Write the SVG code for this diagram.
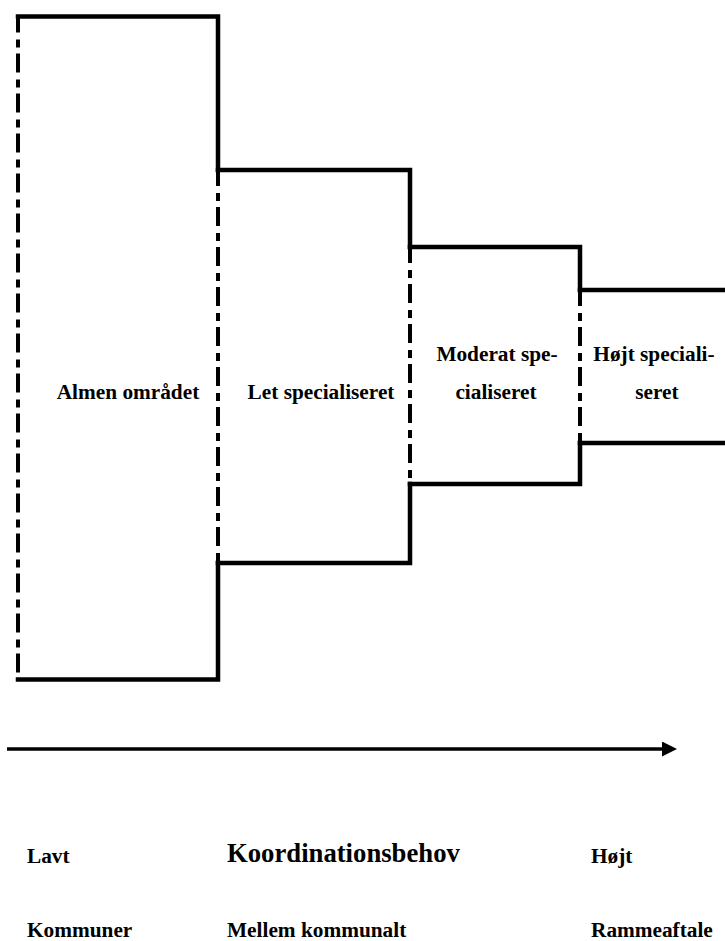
<svg xmlns="http://www.w3.org/2000/svg" width="725" height="941" viewBox="0 0 725 941">
<style>
.solid{fill:none;stroke:#000;stroke-width:4.5;stroke-linecap:square;stroke-linejoin:miter}
.dash{fill:none;stroke:#000;stroke-width:4;stroke-dasharray:19 7 8 6;stroke-dashoffset:3}
.lbl{font-family:"Liberation Serif","Times New Roman",serif;font-weight:bold;font-size:21.3px;fill:#000}
.big{font-size:26.7px}
.mid{text-anchor:middle}
</style>
<defs>
<marker id="ah" markerWidth="16" markerHeight="15" refX="1" refY="7.5" orient="auto" markerUnits="userSpaceOnUse">
<path d="M0,0 L15,7.5 L0,15 Z" fill="#000"/>
</marker>
</defs>
<rect width="725" height="941" fill="#fff"/>
<g id="almen">
<path class="solid" d="M18,16.5 H218 V170 M218,563 V679.5 H18"/>
<path class="dash" d="M18,16.5 V679.5"/>
<text class="lbl mid" x="128" y="399">Almen området</text>
</g>
<g id="let">
<path class="solid" d="M218,170 H410 V247 M410,484 V563 H218"/>
<path class="dash" d="M218,170 V563"/>
<text class="lbl mid" x="321" y="399">Let specialiseret</text>
</g>
<g id="moderat">
<path class="solid" d="M410,247 H580 V290 M580,443 V484 H410"/>
<path class="dash" d="M410,247 V484"/>
<text class="lbl mid" x="497" y="361">Moderat spe-</text>
<text class="lbl mid" x="496" y="399">cialiseret</text>
</g>
<g id="hoejt">
<path class="solid" d="M580,290 H727 M580,443 H727"/>
<path class="dash" d="M580,290 V443"/>
<text class="lbl mid" x="654" y="361">Højt speciali-</text>
<text class="lbl mid" x="657" y="399">seret</text>
</g>
<g id="connectors">
<path d="M7,749 H663" stroke="#000" stroke-width="3.5" fill="none" marker-end="url(#ah)"/>
</g>
<g id="axis-labels">
<text class="lbl" x="27" y="863">Lavt</text>
<text class="lbl big" x="227" y="862">Koordinationsbehov</text>
<text class="lbl" x="591" y="863">Højt</text>
<text class="lbl" x="27" y="937">Kommuner</text>
<text class="lbl" x="227" y="937">Mellem kommunalt</text>
<text class="lbl" x="591" y="937">Rammeaftale</text>
</g>
</svg>
